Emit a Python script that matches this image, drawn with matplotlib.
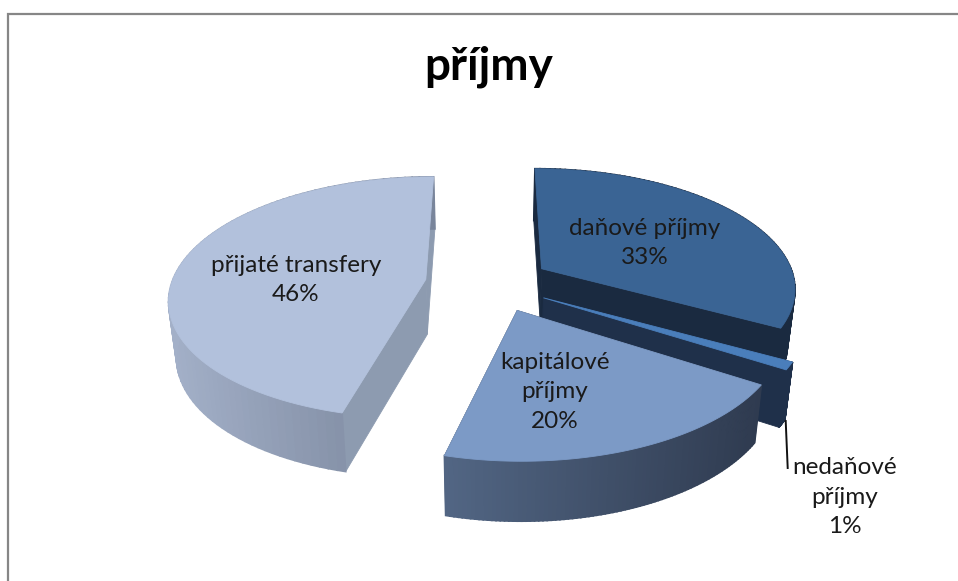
import numpy as np
import matplotlib
matplotlib.use("Agg")
import matplotlib.pyplot as plt
from matplotlib.colors import to_rgb

# Data
title = "příjmy"
categories = ["daňové příjmy", "nedaňové\npříjmy", "kapitálové\npříjmy", "přijaté transfery"]
values = [33, 1, 20, 46]

# Colours of each slice: top, radial faces, outer wall left and right
top_colors = ["#3a6494", "#4a7ebb", "#7c9ac6", "#b2c1dc"]
face_colors = ["#1a2a40", "#1f304a", "#2f3b50", "#8d9bb0"]
wall_left = ["#1a2a40", "#1f304a", "#526684", "#a3b0c8"]
wall_right = ["#1a2a40", "#1f304a", "#2f3b50", "#78849a"]

# Where the label centres sit, in pixels
label_pos = [(645, 243), (845, 497), (555, 392), (296, 280)]

# Pie geometry
cx, cy = 489, 283
rx, ry = 254, 119
persp = 0.15
explode = 0.24
depth = 55
shrink = 0.975
# small sideways corrections per slice, in pixels
nudge_x = [1, 1, 5, -3]

plt.rcParams["font.family"] = ["Lato", "DejaVu Sans"]

fig = plt.figure(figsize=(9.58, 5.81), dpi=100)
ax = fig.add_axes([0, 0, 1, 1])
ax.set_xlim(0, 958)
ax.set_ylim(581, 0)
ax.axis("off")


def project(wx, wy):
    s = 1 / (1 + persp * wy)
    return cx + wx * rx * s, cy - wy * ry * s, s


def bottom(x, y, s):
    return cx + (x - cx) * shrink, y + depth * (1 + 0.4 * (s - 1))


def poly(xs, ys, color, z, lw=0.6):
    ax.fill(xs, ys, facecolor=color, edgecolor=color, linewidth=lw, zorder=z)


# Chart frame, cut by the edge of the picture on the right and at the bottom
ax.plot([8.5, 8.5, 958], [581, 13.5, 13.5], color="#868686", linewidth=1.6, zorder=1,
        solid_joinstyle="miter")

edges = np.concatenate([[0], np.cumsum(values)]) / np.sum(values) * 2 * np.pi

for i in range(len(values)):
    z = 2 + i
    start, end = edges[i], edges[i + 1]
    mid = (start + end) / 2
    ax_w = explode * np.sin(mid)
    ay_w = explode * np.cos(mid)
    t = np.linspace(start, end, 90)
    x, y, s = project(ax_w + np.sin(t), ay_w + np.cos(t))
    ax0, ay0, as0 = project(ax_w, ay_w)
    xb, yb = bottom(x, y, s)
    axb, ayb = bottom(ax0, ay0, as0)
    x = x + nudge_x[i]
    xb = xb + nudge_x[i]
    ax0 = ax0 + nudge_x[i]
    axb = axb + nudge_x[i]

    # radial faces first, the outer wall and the top go over them
    poly([ax0, x[0], xb[0], axb], [ay0, y[0], yb[0], ayb], face_colors[i], z)
    poly([ax0, x[-1], xb[-1], axb], [ay0, y[-1], yb[-1], ayb], face_colors[i], z)

    # outer wall as small quads, shaded from left to right
    left = np.array(to_rgb(wall_left[i]))
    right = np.array(to_rgb(wall_right[i]))
    for j in range(len(t) - 1):
        f = (x[j] - x.min()) / (x.max() - x.min())
        col = left + (right - left) * f
        poly([x[j], x[j + 1], xb[j + 1], xb[j]], [y[j], y[j + 1], yb[j + 1], yb[j]], tuple(col), z, lw=1.2)

    poly(np.r_[ax0, x], np.r_[ay0, y], top_colors[i], z)

# Leader line of the small slice
ax.plot([785.7, 787.7], [421, 468], color="#111111", linewidth=1.4, zorder=10)

for i in range(len(values)):
    ax.text(label_pos[i][0], label_pos[i][1], categories[i] + "\n" + str(values[i]) + "%",
            ha="center", va="center", fontsize=17.5, color="#1a1a1a", linespacing=1.5, zorder=11)

ax.text(489, 67, title, ha="center", va="center", fontsize=33, fontweight="bold", color="black", zorder=11)

fig.savefig("out.png", dpi=100)
